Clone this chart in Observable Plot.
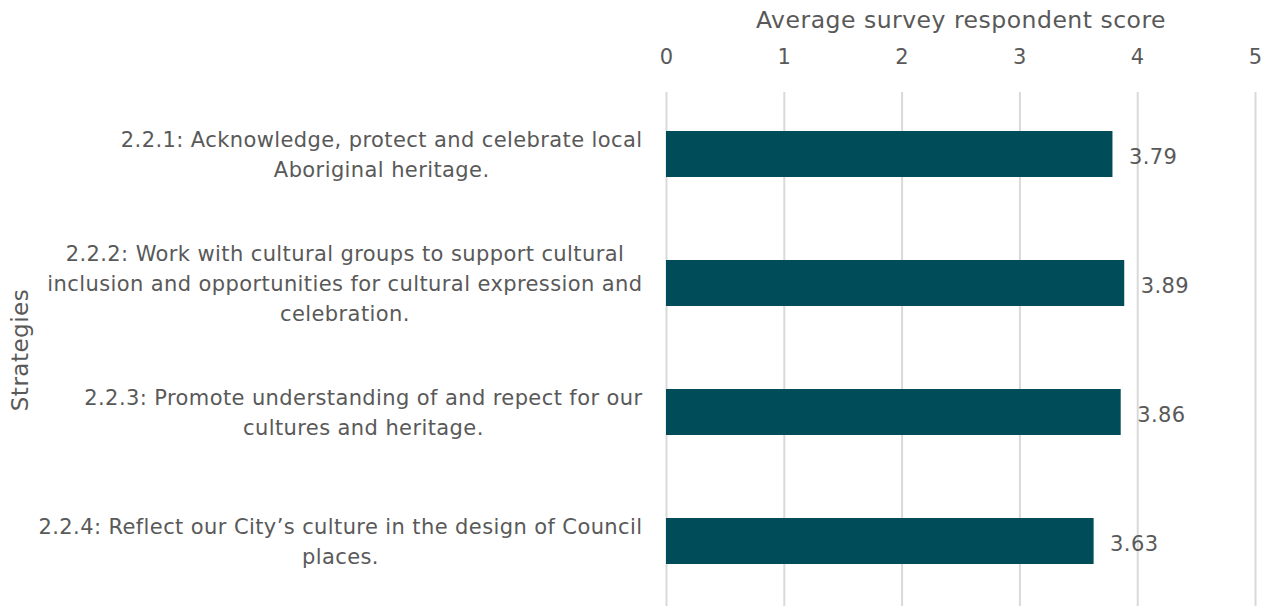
<!DOCTYPE html>
<html>
<head>
<meta charset="utf-8">
<script src="https://cdn.jsdelivr.net/npm/d3@7"></script>
<script src="https://cdn.jsdelivr.net/npm/@observablehq/plot@0.6"></script>
<style>
  html, body { margin: 0; padding: 0; background: #ffffff; }
  #chart { width: 1271px; height: 606px; }
  svg { font-family: "DejaVu Sans", sans-serif; }
  g[aria-label="y-axis tick label"] text { letter-spacing: 0.4px; }
  g[aria-label="x-axis tick label"] text { letter-spacing: 0.3px; }
  g.value-label text { letter-spacing: 0.4px; }
  g.title-label text { letter-spacing: 0.5px; }
</style>
</head>
<body>
<div id="chart"></div>
<script>
const strategies = [
  "2.2.1: Acknowledge, protect and celebrate local\nAboriginal heritage.",
  "2.2.2: Work with cultural groups to support cultural\ninclusion and opportunities for cultural expression and\ncelebration.",
  "2.2.3: Promote understanding of and repect for our\ncultures and heritage.",
  "2.2.4: Reflect our City\u2019s culture in the design of Council\nplaces."
];
const scores = [3.79, 3.89, 3.86, 3.63];
const xTicks = [0, 1, 2, 3, 4, 5];
const xTitle = "Average survey respondent score";
const yTitle = "Strategies";

const data = strategies.map((s, i) => ({strategy: s, score: scores[i]}));
const textColor = "#595959";
const font = "'DejaVu Sans', sans-serif";

const chart = Plot.plot({
  width: 1271,
  height: 606,
  marginLeft: 666,
  marginRight: 16,
  marginTop: 89,
  marginBottom: 0,
  style: {fontFamily: font, color: textColor, background: "#ffffff"},
  x: {domain: [0, 5]},
  y: {domain: strategies, paddingInner: 0.644, paddingOuter: 0.322},
  marks: [
    Plot.gridX(xTicks, {stroke: "#d9d9d9", strokeOpacity: 1, strokeWidth: 2, insetTop: 3}),
    Plot.barX(data, {x: "score", y: "strategy", fill: "#004c59"}),
    Plot.text(data, {x: "score", y: "strategy", text: d => d.score.toFixed(2), dx: 16, dy: 3, textAnchor: "start", fill: textColor, fontSize: 21, className: "value-label"}),
    Plot.axisX({anchor: "top", ticks: xTicks, tickFormat: d => String(d), tickSize: 0, tickPadding: 26, label: null, fontSize: 21, fill: textColor}),
    Plot.axisY({anchor: "left", tickSize: 0, tickPadding: 24, label: null, fontSize: 21, textAnchor: "middle", lineHeight: 1.43, dy: -2, fill: textColor}),
    Plot.text([xTitle], {frameAnchor: "top", dy: -69, lineAnchor: "middle", textAnchor: "middle", fontSize: 23.5, fill: textColor, className: "title-label"}),
    Plot.text([yTitle], {frameAnchor: "left", dx: -646, dy: 2, rotate: -90, textAnchor: "middle", lineAnchor: "middle", fontSize: 23, fill: textColor, className: "title-label"})
  ]
});
document.getElementById("chart").appendChild(chart);

// center each multi-line label block so its widest line ends at the anchor
chart.querySelectorAll('g[aria-label="y-axis tick label"] text').forEach(t => {
  const w = t.getBBox().width;
  const tr = t.getAttribute("transform") || "";
  t.setAttribute("transform", tr + ` translate(${-w / 2},0)`);
});
</script>
</body>
</html>
